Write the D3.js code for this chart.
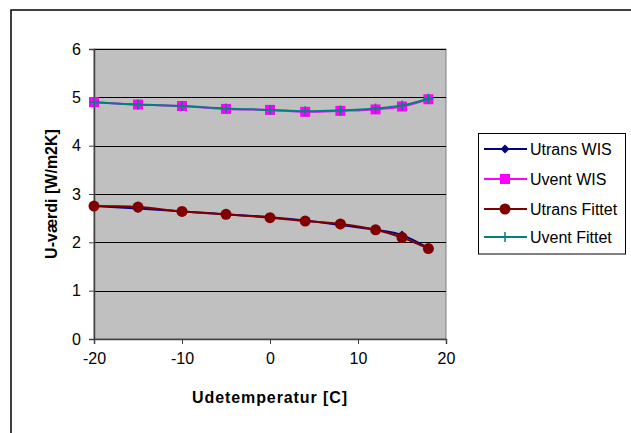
<!DOCTYPE html>
<html>
<head>
<meta charset="utf-8">
<script src="https://cdn.jsdelivr.net/npm/d3@7"></script>
<style>
  body { margin: 0; background: #fff; }
  svg text { font-family: "Liberation Sans", Arial, sans-serif; fill: #000; }
</style>
</head>
<body>
<div class="container"></div>
<script>
// data
const temps = [-20, -15, -10, -5, 0, 4, 8, 12, 15, 18];
const utransWIS = [2.75, 2.70, 2.64, 2.58, 2.52, 2.45, 2.36, 2.26, 2.15, 1.88];
const uventWIS = [4.90, 4.85, 4.82, 4.76, 4.74, 4.70, 4.72, 4.75, 4.81, 4.96];
const utransFit = [2.75, 2.73, 2.64, 2.58, 2.51, 2.44, 2.38, 2.26, 2.10, 1.87];
const uventFit = [4.90, 4.85, 4.82, 4.77, 4.74, 4.71, 4.73, 4.77, 4.83, 4.97];
const xTicks = [-20, -10, 0, 10, 20];
const yTicks = [0, 1, 2, 3, 4, 5, 6];

const seriesNames = ['Utrans WIS', 'Uvent WIS', 'Utrans Fittet', 'Uvent Fittet'];
const seriesColors = ['#000080', '#FF00FF', '#800000', '#008080'];
const seriesMarkers = ['diamond', 'square', 'circle', 'plus'];

const width = 631, height = 433;
const plot = {left: 94, top: 49, right: 446, bottom: 339};

const svg = d3.select('.container')
    .append('svg')
    .attr('width', width)
    .attr('height', height);

// outer chart frame (cut off at right/bottom like the original)
svg.append('rect')
    .attr('x', 11).attr('y', 10)
    .attr('width', 700).attr('height', 500)
    .attr('fill', 'none')
    .attr('stroke', '#000')
    .attr('stroke-width', 1.5);

const x = d3.scaleLinear().domain([-20, 20]).range([plot.left, plot.right]);
const y = d3.scaleLinear().domain([0, 6]).range([plot.bottom, plot.top]);

// plot area
svg.append('rect')
    .attr('x', plot.left).attr('y', plot.top)
    .attr('width', plot.right - plot.left)
    .attr('height', plot.bottom - plot.top)
    .attr('fill', '#C0C0C0')
    .attr('stroke', '#808080')
    .attr('stroke-width', 1);

// gridlines
svg.append('g')
    .selectAll('line')
    .data(yTicks.filter(d => d > 0))
    .enter().append('line')
    .attr('x1', plot.left).attr('x2', plot.right)
    .attr('y1', d => Math.round(y(d)) + 0.5)
    .attr('y2', d => Math.round(y(d)) + 0.5)
    .attr('stroke', '#000')
    .attr('stroke-width', 1);

// axes
const fmt = d => String(d).replace('\u2212', '-');
const xAxis = svg.append('g')
    .attr('transform', `translate(0,${plot.bottom})`)
    .call(d3.axisBottom(x).tickValues(xTicks).tickFormat(fmt).tickSize(5).tickPadding(9));
const yAxis = svg.append('g')
    .attr('transform', `translate(${plot.left},0)`)
    .call(d3.axisLeft(y).tickValues(yTicks).tickFormat(fmt).tickSize(5).tickPadding(8));

[xAxis, yAxis].forEach(a => {
    a.attr('font-size', null).attr('font-family', null);
    a.select('.domain').attr('stroke', '#404040').attr('stroke-width', 1.5);
    a.selectAll('.tick line').attr('stroke', '#404040');
    a.selectAll('.tick text').style('font-size', '16px');
});

// axis titles
svg.append('text')
    .attr('x', 270).attr('y', 403)
    .attr('text-anchor', 'middle')
    .style('font-size', '16px')
    .style('letter-spacing', '0.9px')
    .attr('font-weight', 'bold')
    .text('Udetemperatur [C]');

svg.append('text')
    .attr('transform', `translate(57,${(plot.top + plot.bottom) / 2}) rotate(-90)`)
    .attr('text-anchor', 'middle')
    .style('font-size', '16px')
    .attr('font-weight', 'bold')
    .text('U-værdi [W/m2K]');

const allValues = [utransWIS, uventWIS, utransFit, uventFit];

const line = d3.line()
    .x(d => x(d[0]))
    .y(d => y(d[1]))
    .curve(d3.curveCatmullRom.alpha(0.5));

function drawMarker(g, type, color) {
    if (type === 'diamond') {
        g.append('path').attr('d', 'M0,-4.5L4.5,0L0,4.5L-4.5,0Z').attr('fill', color);
    } else if (type === 'square') {
        g.append('rect').attr('x', -5).attr('y', -5).attr('width', 10).attr('height', 10).attr('fill', color);
    } else if (type === 'circle') {
        g.append('circle').attr('r', 5.5).attr('fill', color);
    } else if (type === 'plus') {
        g.append('path').attr('d', 'M-5,0H5M0,-5V5').attr('stroke', color).attr('stroke-width', 1.5);
    }
}

allValues.forEach((vals, i) => {
    const pts = temps.map((t, j) => [t, vals[j]]);
    const g = svg.append('g').attr('class', 'series');
    g.append('path')
        .datum(pts)
        .attr('d', line)
        .attr('fill', 'none')
        .attr('stroke', seriesColors[i])
        .attr('stroke-width', 2);
    g.selectAll('.mk')
        .data(pts)
        .enter().append('g')
        .attr('class', 'mk')
        .attr('transform', d => `translate(${x(d[0])},${y(d[1])})`)
        .each(function () { drawMarker(d3.select(this), seriesMarkers[i], seriesColors[i]); });
});

// legend
const legend = svg.append('g');
legend.append('rect')
    .attr('x', 478.5).attr('y', 133.5)
    .attr('width', 147).attr('height', 120.5)
    .attr('fill', '#fff')
    .attr('stroke', '#000')
    .attr('stroke-width', 1);

const rowY = [149, 179, 209, 237];
seriesNames.forEach((name, i) => {
    const row = legend.append('g').attr('transform', `translate(0,${rowY[i]})`);
    row.append('line')
        .attr('x1', 484).attr('x2', 527)
        .attr('stroke', seriesColors[i])
        .attr('stroke-width', 2);
    const mk = row.append('g').attr('transform', 'translate(505,0)');
    drawMarker(mk, seriesMarkers[i], seriesColors[i]);
    row.append('text')
        .attr('x', 530).attr('y', 6)
        .style('font-size', '16px')
        .text(name);
});
</script>
</body>
</html>
